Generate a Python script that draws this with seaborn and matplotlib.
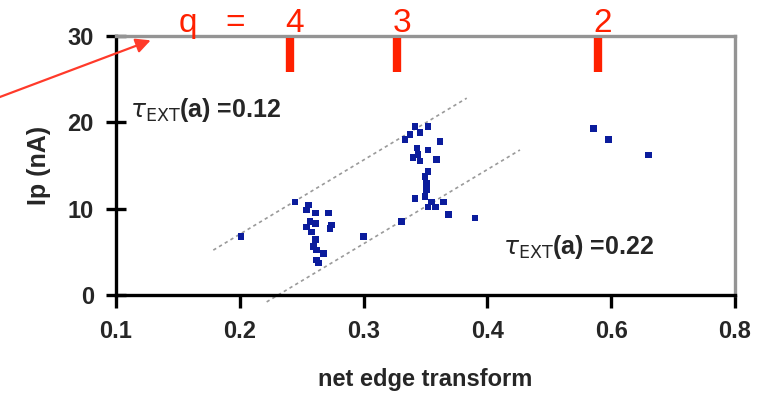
import matplotlib
matplotlib.use("Agg")
import matplotlib.pyplot as plt
import seaborn as sns
import pandas as pd

# ---- data ----
net_edge = [0.201, 0.2446, 0.2553, 0.254, 0.261, 0.2715, 0.2567, 0.261, 0.2742, 0.254,
            0.258, 0.273, 0.261, 0.2594, 0.262, 0.2675, 0.262, 0.2635, 0.300,
            0.3415, 0.352, 0.3375, 0.3456, 0.3334, 0.3617, 0.343, 0.352, 0.344, 0.340,
            0.359, 0.3456, 0.352, 0.3496, 0.351, 0.351, 0.3415, 0.3496, 0.355, 0.3644,
            0.358, 0.352, 0.3684, 0.390, 0.3308,
            0.4856, 0.498, 0.530]
ip_na = [6.75, 10.8, 10.4, 9.85, 9.5, 9.5, 8.5, 8.3, 8.1, 7.9,
         7.3, 7.7, 6.4, 5.6, 5.2, 4.8, 4.05, 3.7, 6.75,
         19.5, 19.5, 18.6, 18.8, 18.0, 17.8, 17.0, 16.8, 16.3, 15.9,
         15.7, 15.5, 14.3, 13.7, 12.9, 12.2, 11.2, 11.4, 10.8, 10.8,
         10.2, 10.2, 9.3, 8.9, 8.5,
         19.3, 18.0, 16.2]

x_ticks = [0.1, 0.2, 0.3, 0.4, 0.5, 0.6]
x_tick_labels = ["0.1", "0.2", "0.3", "0.4", "0.6", "0.8"]
y_ticks = [0, 10, 20, 30]

upper_line_x = [0.1786, 0.3833]
upper_line_y = [5.2, 22.8]
lower_line_x = [0.2217, 0.4263]
lower_line_y = [-0.8, 16.8]

q_values = ["4", "3", "2"]
q_positions = [0.2405, 0.327, 0.489]

df = pd.DataFrame({"net edge transform": net_edge, "Ip (nA)": ip_na})

sns.set_theme(style="white")
plt.rcParams['font.family'] = ['Liberation Sans', 'DejaVu Sans']

fig = plt.figure(figsize=(7.59, 3.93), dpi=100)
ax = fig.add_axes([116/759, 1 - 295/393, (735 - 116)/759, (295 - 36)/393])

ax.plot(upper_line_x, upper_line_y, color="#9a9a9a", lw=1.2, ls=(0, (2, 2)), clip_on=False)
ax.plot(lower_line_x, lower_line_y, color="#9a9a9a", lw=1.2, ls=(0, (2, 2)), clip_on=False)

sns.scatterplot(data=df, x="net edge transform", y="Ip (nA)", ax=ax, marker="s",
                s=22, color="#0b1c9c", edgecolor="none", linewidth=0, zorder=3)

ax.set_xlim(0.1, 0.6)
ax.set_ylim(0, 30)
ax.set_xticks(x_ticks)
ax.set_xticklabels(x_tick_labels)
ax.set_yticks(y_ticks)

for side in ["left", "bottom"]:
    ax.spines[side].set_color("black")
    ax.spines[side].set_linewidth(2.4)
for side in ["top", "right"]:
    ax.spines[side].set_color("#949494")
    ax.spines[side].set_linewidth(2.4)
    ax.spines[side].set_visible(True)

ax.tick_params(axis="x", direction="out", length=9, width=2.4, color="black",
               labelsize=17, pad=9, bottom=True)
ax.tick_params(axis="y", direction="inout", length=14, width=2.4, color="black",
               labelsize=17, pad=9, left=True)
for lab in ax.get_xticklabels() + ax.get_yticklabels():
    lab.set_fontweight("bold")

ax.set_xlabel("net edge transform", fontsize=17, fontweight="bold", labelpad=18)
ax.set_ylabel("Ip (nA)", fontsize=18, fontweight="bold", labelpad=12)

ax.text(0.111, 21.4, r"$\tau_{\mathrm{EXT}}$(a) =0.12", fontsize=18, fontweight="bold",
        ha="left", va="center")
ax.text(0.413, 5.6, r"$\tau_{\mathrm{EXT}}$(a) =0.22", fontsize=18, fontweight="bold",
        ha="left", va="center")

# red q markers
for qv, qp in zip(q_values, q_positions):
    ax.plot([qp, qp], [29.8, 25.8], color="#ff2000", lw=6, solid_capstyle="butt",
            clip_on=False, zorder=4)
    ax.text(qp + 0.004, 30.5, qv, color="#ff2000", fontsize=24, ha="center", va="baseline",
            clip_on=False)
ax.text(0.158, 30.5, "q", color="#ff2000", fontsize=24, ha="center", va="baseline",
        clip_on=False)
ax.text(0.196, 30.5, "=", color="#ff2000", fontsize=24, ha="center", va="baseline",
        clip_on=False)

ax.annotate("", xy=(0.128, 29.5), xytext=(0.0, 22.6),
            xycoords="data", textcoords="data",
            arrowprops=dict(arrowstyle="-|>", color="#ff3a2a", lw=1.6,
                            mutation_scale=22, shrinkA=0, shrinkB=0),
            annotation_clip=False)

fig.savefig("out.png", dpi=100)
